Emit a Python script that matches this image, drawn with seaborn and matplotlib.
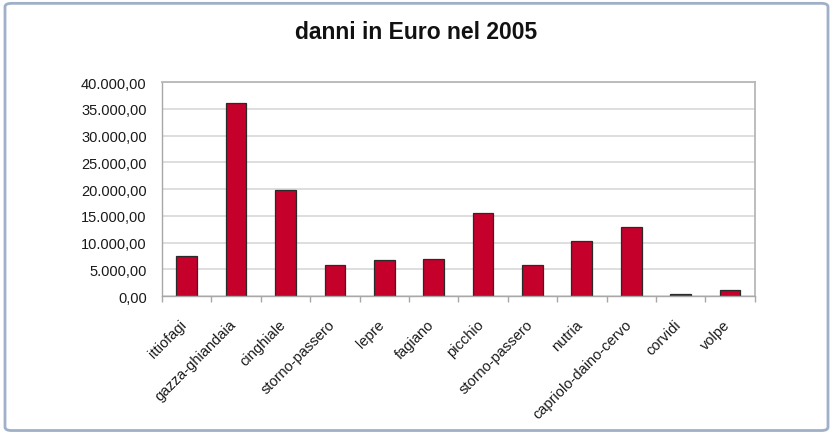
import matplotlib
matplotlib.use("Agg")
import matplotlib.pyplot as plt
import matplotlib.transforms as mtransforms
import seaborn as sns
import pandas as pd
from matplotlib.patches import FancyBboxPatch
from matplotlib.ticker import FuncFormatter, FixedLocator

categories = ["ittiofagi", "gazza-ghiandaia", "cinghiale", "storno-passero", "lepre",
              "fagiano", "picchio", "storno-passero ", "nutria", "capriolo-daino-cervo",
              "corvidi", "volpe"]
values = [7500, 36000, 19900, 5850, 6800, 6900, 15500, 5850, 10200, 12950, 300, 1100]
title = "danni in Euro nel 2005"

df = pd.DataFrame({"cat": categories, "val": values})

sns.set_theme(style="white")
plt.rcParams["font.family"] = ["Liberation Sans", "DejaVu Sans"]

fig = plt.figure(figsize=(8.33, 4.35), dpi=100)
ax = fig.add_axes([0.1945, 0.3172, 0.906 - 0.1945, 0.809 - 0.3172])

sns.barplot(data=df, x="cat", y="val", ax=ax, color="#c4002b", width=0.42,
            edgecolor="#2a2a2a", linewidth=0.9, saturation=1)

ax.set_ylim(0, 40000)
ax.set_xlim(-0.5, len(categories) - 0.5)
ax.set_yticks(range(0, 40001, 5000))
ax.yaxis.set_major_formatter(FuncFormatter(
    lambda v, p: f"{v:,.2f}".replace(",", "X").replace(".", ",").replace("X", ".")))
ax.grid(axis="y", color="#d8d8d8", linewidth=1.2)
ax.set_axisbelow(True)
ax.set_xlabel("")
ax.set_ylabel("")

for s in ["top", "right"]:
    ax.spines[s].set_visible(True)
    ax.spines[s].set_color("#b8b8b8")
    ax.spines[s].set_linewidth(1.3)
ax.spines["left"].set_color("#a8a8a8")
ax.spines["bottom"].set_color("#a8a8a8")
ax.spines["left"].set_linewidth(1.0)
ax.spines["bottom"].set_linewidth(1.0)

ax.tick_params(axis="y", left=False, labelsize=10.5, colors="#1a1a1a", pad=5)
ax.set_xticks(range(len(categories)))
ax.set_xticklabels([c.strip() for c in categories], rotation=45, ha="right",
                   rotation_mode="anchor", fontsize=10.5, color="#1a1a1a")
ax.tick_params(axis="x", bottom=False, pad=6)
offset = mtransforms.ScaledTranslation(-5 / 72, -3 / 72, fig.dpi_scale_trans)
for lbl in ax.get_xticklabels():
    lbl.set_transform(lbl.get_transform() + offset)
ax.xaxis.set_minor_locator(FixedLocator([i - 0.5 for i in range(len(categories) + 1)]))
ax.tick_params(axis="x", which="minor", bottom=True, length=4, color="#a8a8a8", width=1)

fig.text(0.5, 0.925, title, ha="center", va="center", fontsize=16.5,
         fontweight="bold", color="#111111")

frame = FancyBboxPatch((0.006, 0.008), 0.988, 0.982, boxstyle="round,pad=0,rounding_size=0.008",
                       transform=fig.transFigure, facecolor="none", edgecolor="#9fb0c8",
                       linewidth=2.0)
fig.patches.append(frame)

fig.savefig("out.png", dpi=100, facecolor="white")
